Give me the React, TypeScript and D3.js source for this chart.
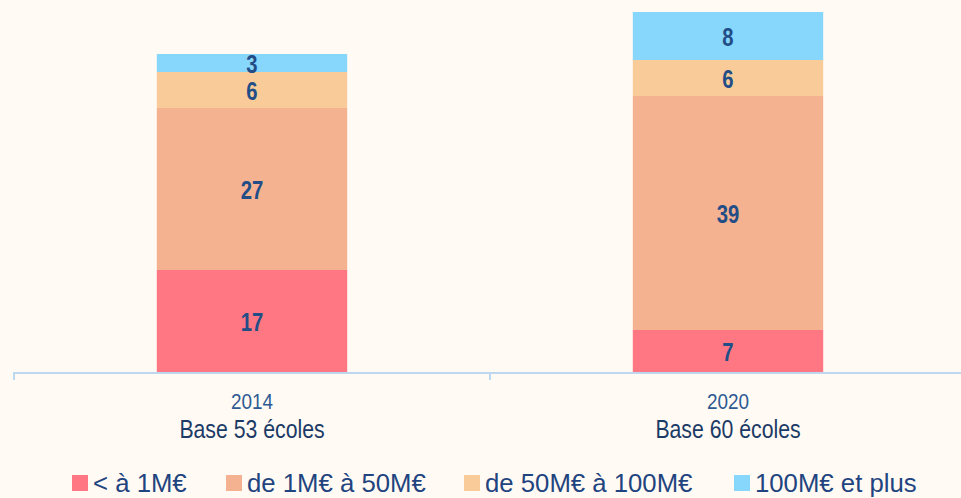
import React, { useRef, useEffect } from 'react';
import * as d3 from 'd3';

const years = ['2014', '2020'];
const bases = ['Base 53 écoles', 'Base 60 écoles'];
const seriesNames = ['< à 1M€', 'de 1M€ à 50M€', 'de 50M€ à 100M€', '100M€ et plus'];
const lessThan1 = [17, 7];
const from1To50 = [27, 39];
const from50To100 = [6, 6];
const over100 = [3, 8];
const colors = ['#FF7782', '#F5B291', '#F9CB99', '#87D7FC'];

const FONT = "'Liberation Sans', Arial, sans-serif";

export default function App() {
  const ref = useRef<SVGSVGElement>(null);

  useEffect(() => {
    const width = 961;
    const height = 498;
    const svg = d3.select(ref.current);
    svg.selectAll('*').remove();

    // narrow-ish text: Liberation Sans squeezed horizontally
    const label = (
      g: d3.Selection<any, unknown, null, undefined>,
      x: number, y: number, txt: string | number,
      size: number, sx: number, fill: string, anchor = 'middle', bold = false
    ) =>
      g.append('text')
        .attr('transform', `translate(${x},${y}) scale(${sx},1)`)
        .attr('text-anchor', anchor)
        .attr('font-family', FONT)
        .attr('font-weight', bold ? 'bold' : 'normal')
        .attr('font-size', size)
        .attr('fill', fill)
        .text(txt);

    const rows = years.map((y, i) => ({
      year: y,
      values: [lessThan1[i], from1To50[i], from50To100[i], over100[i]],
    }));

    const x = d3.scaleBand().domain(years).range([14, 966]);
    const y = d3.scaleLinear().domain([0, 60]).range([372, 12]);
    const barW = x.bandwidth() * 0.4;

    svg.append('rect').attr('width', width).attr('height', height).attr('fill', '#FFFBF4');

    rows.forEach((r) => {
      let acc = 0;
      const cx = (x(r.year) as number) + x.bandwidth() / 2;
      r.values.forEach((v, k) => {
        const y0 = y(acc);
        const y1 = y(acc + v);
        acc += v;
        svg.append('rect')
          .attr('x', cx - barW / 2)
          .attr('y', y1)
          .attr('width', barW)
          .attr('height', y0 - y1)
          .attr('fill', colors[k]);
        label(svg, cx, (y0 + y1) / 2 + 10, v, 25, 0.81, '#224D86', 'middle', true);
      });
    });

    // axis
    const axis = svg.append('g');
    axis.append('line')
      .attr('x1', 14).attr('x2', width)
      .attr('y1', 373).attr('y2', 373)
      .attr('stroke', '#BDD7EE').attr('stroke-width', 2);
    [...years.map((yr) => x(yr) as number), 966].forEach((t) => {
      axis.append('line')
        .attr('x1', t).attr('x2', t)
        .attr('y1', 372).attr('y2', 380)
        .attr('stroke', '#BDD7EE').attr('stroke-width', 2);
    });
    years.forEach((yr, i) => {
      const cx = (x(yr) as number) + x.bandwidth() / 2;
      label(axis, cx, 409, yr, 22, 0.86, '#2E5A93');
      label(axis, cx, 438, bases[i], 25, 0.85, '#1C3A66');
    });

    // legend
    const legendX = [72, 226, 464, 734];
    const legend = svg.append('g');
    seriesNames.forEach((name, i) => {
      legend.append('rect')
        .attr('x', legendX[i]).attr('y', 475)
        .attr('width', 16).attr('height', 16)
        .attr('fill', colors[i]);
      label(legend, legendX[i] + 21, 492, name, 26, 0.99, '#1F4480', 'start');
    });
  }, []);

  return (
    <svg ref={ref} width={961} height={498} style={{ position: 'absolute', left: 0, top: 0, display: 'block' }} />
  );
}
